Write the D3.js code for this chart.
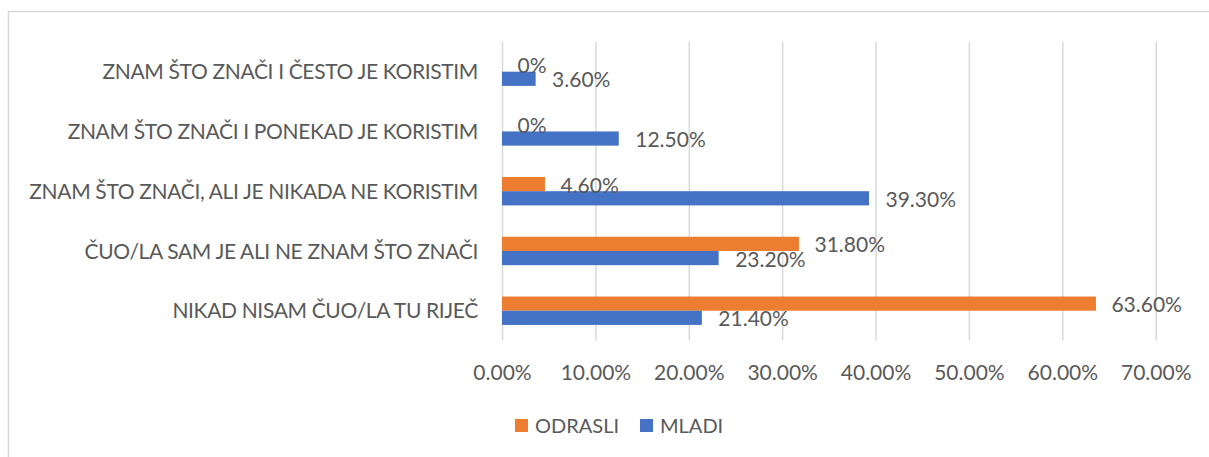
<!DOCTYPE html>
<html>
<head>
<meta charset="utf-8">
<script src="https://cdn.jsdelivr.net/npm/d3@7"></script>
<style>
  html, body { margin: 0; padding: 0; background: #fff; }
  svg text { font-family: "Lato", "Liberation Sans", sans-serif; fill: #595959; }
</style>
</head>
<body>
<svg id="chart" width="1209" height="457"></svg>
<script>
const categories = [
  "ZNAM ŠTO ZNAČI I ČESTO JE KORISTIM",
  "ZNAM ŠTO ZNAČI I PONEKAD JE KORISTIM",
  "ZNAM ŠTO ZNAČI, ALI JE NIKADA NE KORISTIM",
  "ČUO/LA SAM JE ALI NE ZNAM ŠTO ZNAČI",
  "NIKAD NISAM ČUO/LA TU RIJEČ"
];
const seriesNames = ["ODRASLI", "MLADI"];
const odrasli = [0, 0, 4.6, 31.8, 63.6];
const mladi = [3.6, 12.5, 39.3, 23.2, 21.4];
const odrasliLabels = ["0%", "0%", "4.60%", "31.80%", "63.60%"];
const mladiLabels = ["3.60%", "12.50%", "39.30%", "23.20%", "21.40%"];
const tickValues = [0, 10, 20, 30, 40, 50, 60, 70];

const colors = { ODRASLI: "#ED7D31", MLADI: "#4472C4" };
const fontSize = 21;

const svg = d3.select("#chart");

// outer frame
svg.append("rect")
  .attr("x", 8.5).attr("y", 11.5)
  .attr("width", 1300).attr("height", 600)
  .attr("fill", "none").attr("stroke", "#d9d9d9").attr("stroke-width", 1.5);

const x = d3.scaleLinear().domain([0, 70]).range([502, 1155.7]);
const y = d3.scaleBand().domain(categories).range([41.8, 340.6]);
const barH = 14.2;

// gridlines
const xAxis = d3.axisBottom(x).tickValues(tickValues)
  .tickFormat(d => d.toFixed(2) + "%")
  .tickSize(-(340.6 - 41.8)).tickPadding(0);
const gx = svg.append("g").attr("transform", "translate(0,340.6)").call(xAxis);
gx.select(".domain").remove();
gx.selectAll(".tick line").attr("stroke", "#d9d9d9").attr("stroke-width", 1.5);
gx.selectAll(".tick text")
  .attr("y", 39.4).attr("dy", null)
  .style("font-size", fontSize + "px").attr("fill", "#595959");

// category labels
const yAxis = d3.axisLeft(y).tickSize(0).tickPadding(0);
const gy = svg.append("g").attr("transform", "translate(478,0)").call(yAxis);
gy.select(".domain").remove();
gy.selectAll(".tick text")
  .attr("dy", "0.36em")
  .style("font-size", fontSize + "px")
  .style("letter-spacing", "-0.35px")
  .attr("fill", "#595959");

const cy = c => y(c) + y.bandwidth() / 2;

// bars
const rows = categories.map((c, i) => ({ c, o: odrasli[i], m: mladi[i], ol: odrasliLabels[i], ml: mladiLabels[i] }));

svg.append("g").selectAll("rect").data(rows).join("rect")
  .attr("x", x(0)).attr("y", d => cy(d.c) - barH)
  .attr("width", d => x(d.o) - x(0)).attr("height", barH)
  .attr("fill", colors.ODRASLI);

svg.append("g").selectAll("rect").data(rows).join("rect")
  .attr("x", x(0)).attr("y", d => cy(d.c))
  .attr("width", d => x(d.m) - x(0)).attr("height", barH)
  .attr("fill", colors.MLADI);

// data labels
svg.append("g").selectAll("text").data(rows).join("text")
  .attr("x", d => x(d.o) + 15.5).attr("y", d => cy(d.c) - barH / 2 + 1)
  .attr("dy", "0.36em")
  .style("font-size", fontSize + "px")
  .text(d => d.ol);

svg.append("g").selectAll("text").data(rows).join("text")
  .attr("x", d => x(d.m) + 16.5).attr("y", d => cy(d.c) + barH / 2 + 1)
  .attr("dy", "0.36em")
  .style("font-size", fontSize + "px")
  .text(d => d.ml);

// legend
const legendItems = [
  { name: seriesNames[0], x: 515 },
  { name: seriesNames[1], x: 640 }
];
const lg = svg.append("g");
lg.selectAll("rect").data(legendItems).join("rect")
  .attr("x", d => d.x).attr("y", 419).attr("width", 13).attr("height", 13)
  .attr("fill", d => colors[d.name]);
lg.selectAll("text").data(legendItems).join("text")
  .attr("x", d => d.x + 20).attr("y", 425.5).attr("dy", "0.36em")
  .style("font-size", "20px")
  .text(d => d.name);
</script>
</body>
</html>
